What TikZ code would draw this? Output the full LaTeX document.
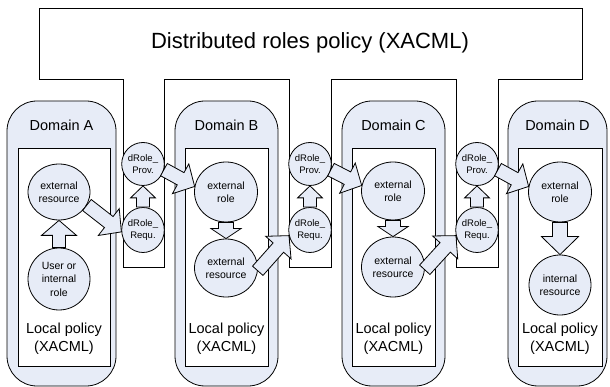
\documentclass[tikz,border=0pt]{standalone}
\usepackage{fontspec}
\setmainfont{Liberation Sans}
\usetikzlibrary{calc,shapes.geometric}

\definecolor{paleblue}{RGB}{231,236,247}

\tikzset{
  domainbox/.style={draw, fill=paleblue, rounded corners=30pt},
  policybox/.style={draw, fill=white},
  bubble/.style={ellipse, draw, fill=paleblue, inner sep=0pt, align=center,
    font=\fontsize{10.5}{13.5}\selectfont},
  drole/.style={bubble, minimum width=42pt, minimum height=43pt,
    font=\fontsize{9.5}{12}\selectfont},
  % block arrow: shaft half width, head half width, head length
  blk/.style n args={3}{draw, fill=paleblue, to path={
    ($(\tikztostart)!#1!90:(\tikztotarget)$)
    -- ($($(\tikztotarget)!#3!(\tikztostart)$)!#1!90:(\tikztotarget)$)
    -- ($($(\tikztotarget)!#3!(\tikztostart)$)!#2!90:(\tikztotarget)$)
    -- (\tikztotarget)
    -- ($($(\tikztotarget)!#3!(\tikztostart)$)!#2!-90:(\tikztotarget)$)
    -- ($($(\tikztotarget)!#3!(\tikztostart)$)!#1!-90:(\tikztotarget)$)
    -- ($(\tikztostart)!#1!-90:(\tikztotarget)$) -- cycle}}
}

\begin{document}
\begin{tikzpicture}[x=1pt,y=-1pt,line width=0.8pt]
    \useasboundingbox (0,0) rectangle (610,387);

    % shared policy with its three columns
    \draw[policybox] (39,8) -- (582,8) -- (582,79) -- (498,79) -- (498,267) -- (456,267)
        -- (456,79) -- (331,79) -- (331,267) -- (289,267) -- (289,79) -- (164,79)
        -- (164,267) -- (123,267) -- (123,79) -- (39,79) -- cycle;
    \node[font=\fontsize{22}{26}\selectfont] (dist) at (310,43) {Distributed roles policy (XACML)};

    \foreach \n/\xl/\xr/\il/\ir in {A/7/116/18/110,B/175/278/185/268,C/342/445/352/435,D/508/607/518/602}
    {
        \draw[domainbox] (\xl,101) rectangle (\xr,386);
        \draw[policybox] (\il,148) rectangle (\ir,366);
        \node[font=\fontsize{14.5}{18}\selectfont] (t\n) at ({(\xl+\xr)/2},125) {Domain \n};
        \node[font=\fontsize{14.5}{18}\selectfont, align=center] (lp\n) at ({(\il+\ir)/2},339) {Local policy\\(XACML)};
    }

    \foreach \c/\x in {1/143,2/310,3/477}
    {
        \node[drole] (prov\c) at (\x,164) {dRole\_\\Prov.};
        \node[drole, minimum height=45pt] (requ\c) at (\x,230) {dRole\_\\Requ.};
    }

    \node[bubble, minimum width=62pt, minimum height=56pt] (er1) at (59,192) {external\\resource};
    \node[bubble, minimum width=62pt, minimum height=62pt] (ur1) at (59,279) {User or\\internal\\role};
    \node[bubble, minimum width=63pt, minimum height=60pt] (er2) at (226,192) {external\\role};
    \node[bubble, minimum width=63pt, minimum height=58pt] (res2) at (226,268) {external\\resource};
    \node[bubble, minimum width=63pt, minimum height=58pt] (er3) at (393,191) {external\\role};
    \node[bubble, minimum width=63pt, minimum height=60pt] (res3) at (393,267) {external\\resource};
    \node[bubble, minimum width=63pt, minimum height=60pt] (er4) at (560,192) {external\\role};
    \node[bubble, minimum width=62pt, minimum height=60pt] (ir4) at (560,285) {internal\\resource};

    \draw[blk={6.5pt}{17.5pt}{15pt}] (ur1.north) to (er1.south);
    \draw[blk={7pt}{17pt}{16pt}] (er1.-25) to (requ1.185);
    \draw[blk={7pt}{17pt}{16pt}] (prov1.-15) to (er2.170);
    \draw[blk={7.5pt}{15pt}{10pt}] (er2.south) to (res2.north);
    \draw[blk={7pt}{17pt}{16pt}] (res2.-5) to (requ2.195);
    \draw[blk={7pt}{17pt}{16pt}] (prov2.-15) to (er3.170);
    \draw[blk={7.5pt}{15pt}{10pt}] (er3.south) to (res3.north);
    \draw[blk={7pt}{17pt}{16pt}] (res3.-5) to (requ3.195);
    \draw[blk={7pt}{17pt}{16pt}] (prov3.-15) to (er4.170);
    \draw[blk={7.5pt}{18.5pt}{18pt}] (er4.south) to (ir4.north);
    \foreach \c in {1,2,3}
        \draw[blk={6.5pt}{12.5pt}{12pt}] (requ\c.north) to (prov\c.south);

\end{tikzpicture}
\end{document}
